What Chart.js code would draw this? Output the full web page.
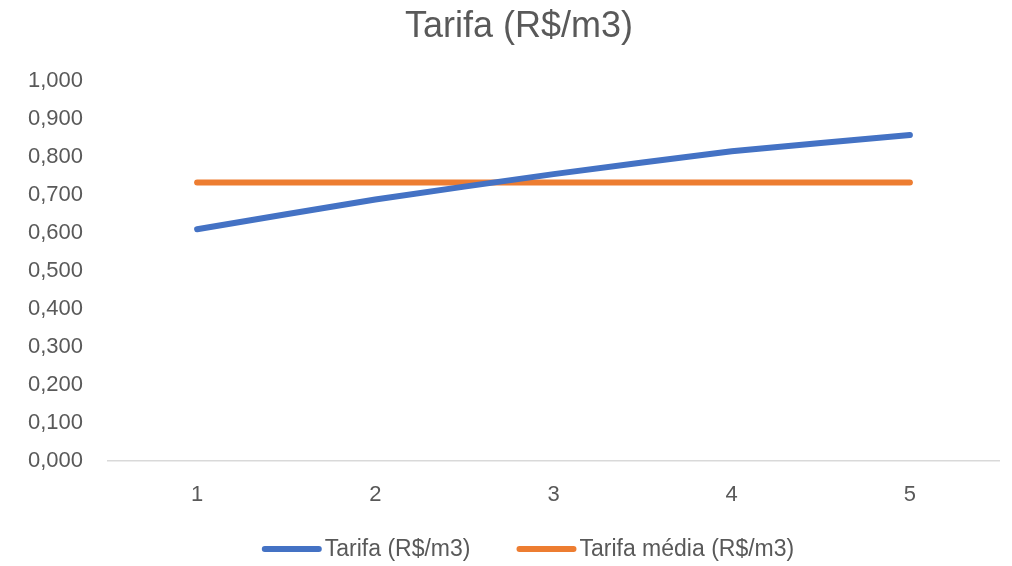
<!DOCTYPE html>
<html>
<head>
<meta charset="utf-8">
<script src="https://cdn.jsdelivr.net/npm/chart.js@4/dist/chart.umd.min.js"></script>
<style>
  html, body { margin: 0; padding: 0; background: #ffffff; }
  #wrap { width: 1012px; height: 566px; }
</style>
</head>
<body>
<div id="wrap"><canvas id="c" width="1012" height="566"></canvas></div>
<script>
// Periods on the x axis
const categories = ['1', '2', '3', '4', '5'];
// Tariff per period (R$/m3)
const tarifa = [0.610, 0.688, 0.755, 0.815, 0.858];
// Average tariff over all periods (R$/m3)
const tarifaMedia = [0.733, 0.733, 0.733, 0.733, 0.733];

const seriesNames = ['Tarifa (R$/m3)', 'Tarifa média (R$/m3)'];
const chartTitle = 'Tarifa (R$/m3)';

const FONT = "'Liberation Sans', 'DejaVu Sans', sans-serif";
const GREY = '#595959';
const LINE_W = 6;

const fmt = v => v.toFixed(3).replace('.', ',');

// Title above the plot and a bottom legend made of a short thick line
// sample followed closely by the series name
const titleAndLegend = {
  id: 'titleAndLegend',
  afterDraw(chart) {
    const ctx = chart.ctx;
    ctx.save();

    ctx.fillStyle = GREY;
    ctx.font = `36px ${FONT}`;
    ctx.textAlign = 'center';
    ctx.textBaseline = 'middle';
    ctx.fillText(chartTitle, 519, 27);

    const sample = 60, gap = 3, between = 46, y = 549;
    ctx.font = `23px ${FONT}`;
    ctx.textAlign = 'left';
    const items = chart.data.datasets.map(ds => ({
      text: ds.label, color: ds.borderColor, w: ctx.measureText(ds.label).width
    }));
    const total = items.reduce((s, it) => s + sample + gap + it.w, 0) + between * (items.length - 1);
    let x = 528 - total / 2;
    items.forEach(it => {
      ctx.strokeStyle = it.color;
      ctx.lineWidth = LINE_W;
      ctx.lineCap = 'round';
      ctx.beginPath();
      ctx.moveTo(x + LINE_W / 2, y);
      ctx.lineTo(x + sample - LINE_W / 2, y);
      ctx.stroke();
      ctx.fillStyle = GREY;
      ctx.fillText(it.text, x + sample + gap, y + 1);
      x += sample + gap + it.w + between;
    });
    ctx.restore();
  }
};

new Chart(document.getElementById('c'), {
  type: 'line',
  data: {
    labels: categories,
    datasets: [
      {
        label: seriesNames[0],
        data: tarifa,
        borderColor: '#4472C4',
        backgroundColor: '#4472C4',
        borderWidth: LINE_W,
        borderCapStyle: 'round',
        pointRadius: 0,
        tension: 0.15
      },
      {
        label: seriesNames[1],
        data: tarifaMedia,
        borderColor: '#ED7D31',
        backgroundColor: '#ED7D31',
        borderWidth: LINE_W,
        borderCapStyle: 'round',
        pointRadius: 0,
        tension: 0
      }
    ]
  },
  plugins: [titleAndLegend],
  options: {
    responsive: false,
    animation: false,
    layout: { padding: { left: 0, right: 13, top: 81, bottom: 45 } },
    plugins: {
      title: { display: false },
      legend: { display: false },
      tooltip: { enabled: false }
    },
    scales: {
      x: {
        offset: true,
        grid: { display: false },
        border: { display: true, color: '#d9d9d9', width: 1.5 },
        ticks: { color: GREY, font: { family: FONT, size: 22 }, padding: 13 },
        afterFit(scale) { scale.height = 60; }
      },
      y: {
        min: 0,
        max: 1,
        grid: { display: false },
        border: { display: false },
        ticks: {
          stepSize: 0.1,
          color: GREY,
          font: { family: FONT, size: 22 },
          padding: 17,
          callback: v => fmt(v)
        },
        afterFit(scale) { scale.width = 108; }
      }
    }
  }
});
</script>
</body>
</html>
